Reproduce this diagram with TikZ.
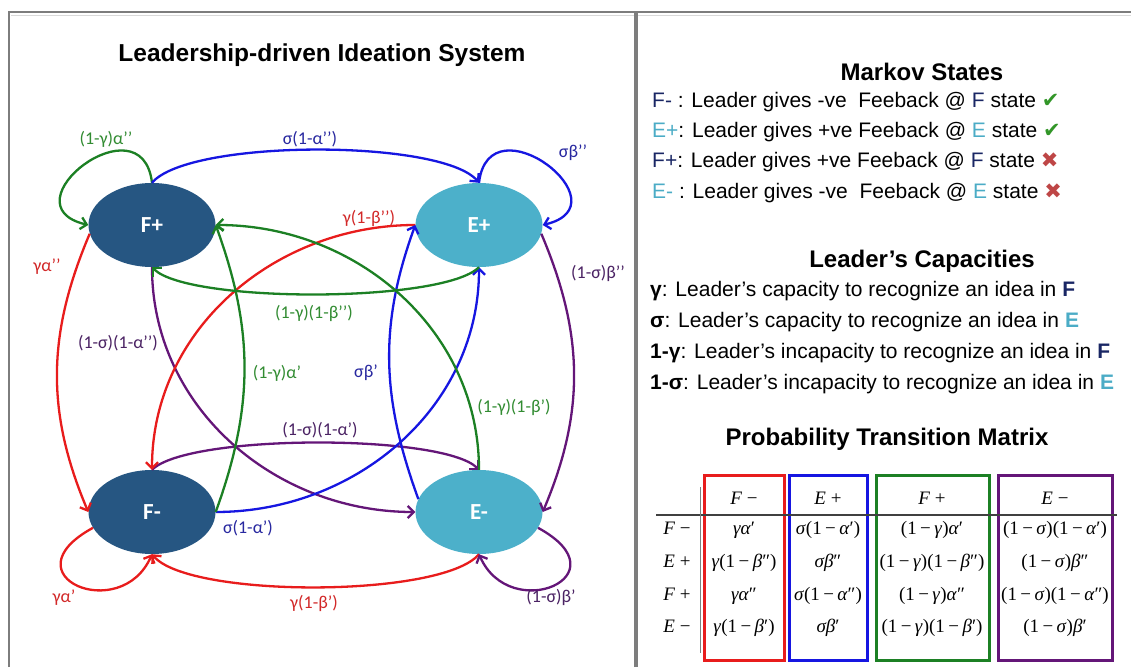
\documentclass[tikz,border=0pt]{standalone}
\usepackage{fontspec}
\setmainfont{Liberation Sans}
\newfontfamily\lbl{Carlito}
\newfontfamily\mtx{Liberation Serif}
\newfontfamily\sym{DejaVu Sans}
\usetikzlibrary{shapes.geometric,arrows.meta}
\definecolor{Fcol}{RGB}{38,86,130}
\definecolor{Ecol}{RGB}{76,176,202}
\definecolor{cred}{RGB}{232,28,28}
\definecolor{cgreen}{RGB}{28,128,36}
\definecolor{cblue}{RGB}{22,22,225}
\definecolor{cpurple}{RGB}{100,22,120}
\definecolor{lred}{RGB}{210,40,40}
\definecolor{lgreen}{RGB}{50,140,50}
\definecolor{lblue}{RGB}{40,40,160}
\definecolor{lpurple}{RGB}{75,35,100}
\definecolor{navy}{RGB}{25,38,100}
\definecolor{aqua}{RGB}{75,172,198}
\definecolor{chk}{RGB}{50,150,40}
\definecolor{crs}{RGB}{190,70,70}
\definecolor{framec}{RGB}{125,125,125}
\newcommand\mi[1]{\textit{#1}}
\newcommand\mmn{\hspace{0.18em}−\hspace{0.18em}}
\begin{document}
\begin{tikzpicture}[x=1pt,y=1pt,
  stnode/.style={ellipse, minimum width=127pt, minimum height=84pt, inner sep=0pt, text=white, font=\lbl\bfseries\fontsize{23}{23}\selectfont},
  Fst/.style={stnode, fill=Fcol},
  Est/.style={stnode, fill=Ecol},
  conn/.style={line width=2.3pt, -{Straight Barb[length=6pt,width=12pt]}},
  lab/.style={font=\lbl\fontsize{18}{18}\selectfont, inner sep=1pt},
  ttl/.style={font=\bfseries\fontsize{24}{24}\selectfont, inner sep=0pt},
  row/.style={anchor=west, inner sep=0pt, font=\fontsize{21}{21}\selectfont, text height=0.75em, text depth=0.25em},
  mx/.style={font=\mtx\fontsize{19}{19}\selectfont, inner sep=0pt, text height=0.75em, text depth=0.25em},
  box/.style={line width=3pt}
]
\useasboundingbox (0,0) rectangle (1131,667);
\fill[white] (0,0) rectangle (1131,667);
% frame
\draw[gray!30, line width=1pt] (11,651.5) -- (1131,651.5);
\draw[framec, line width=2.5pt] (9,655) -- (1131,655);
\draw[framec, line width=2.5pt] (9,0) -- (9,656);
\draw[framec, line width=4pt] (636,0) -- (636,656);

% title
\node[ttl, font=\bfseries\fontsize{24.5}{24.5}\selectfont] (title) at (322,612) {Leadership-driven Ideation System};

% states
\node[Fst] (Fp) at (152,442) {F+};
\node[Est] (Ep) at (479,442) {E+};
\node[Fst] (Fm) at (152,155) {F-};
\node[Est] (Em) at (479,155) {E-};

% edges
\draw[conn, cgreen] (Fp.north) .. controls +(-10,85) and +(-85,20) .. (Fp.west);
\draw[conn, cblue] (Fp.north) to[out=50,in=130,looseness=0.45] (Ep.north);
\draw[conn, cblue] (Ep.north) .. controls +(10,85) and +(85,20) .. (Ep.east);
\draw[conn, cred] (Fp.188) to[out=-113,in=113] (Fm.west);
\draw[conn, cred] (Fm.195) .. controls +(-88,-48) and +(-31,-71) .. (Fm.south);
\draw[conn, cred] (Em.south) to[out=-130,in=-50,looseness=0.45] (Fm.south);
\draw[conn, cpurple] (Em.345) .. controls +(88,-48) and +(31,-71) .. (Em.south);
\draw[conn, cpurple] (Ep.352) to[out=-67,in=67] (Em.east);
\draw[conn, cpurple] (Fp.south) to[out=-90,in=180] (Em.west);
\draw[conn, cpurple] (Fm.north) to[out=45,in=135,looseness=0.4] (Em.north);
\draw[conn, cred] (Ep.west) to[out=180,in=90] (Fm.north);
\draw[conn, cblue] (Em.168) to[out=110,in=-110] (Ep.west);
\draw[conn, cblue] (Fm.east) to[out=0,in=-90] (Ep.south);
\draw[conn, cgreen] (Fm.east) to[out=70,in=-70] (Fp.east);
\draw[conn, cgreen] (Ep.south) to[out=-135,in=-45,looseness=0.4] (Fp.south);
\draw[conn, cgreen] (Em.north) to[out=90,in=0] (Fp.east);

% edge labels
\node[lab, text=lgreen] (l1) at (106,528) {(1-γ)α’’};
\node[lab, text=lblue] (l2) at (310,528) {σ(1-α’’)};
\node[lab, text=lblue] (l3) at (573,514) {σβ’’};
\node[lab, text=lred] (l4) at (369,449) {γ(1-β’’)};
\node[lab, text=lred] (l5) at (47,400) {γα’’};
\node[lab, text=lpurple] (l6) at (598,394) {(1-σ)β’’};
\node[lab, text=lgreen] (l7) at (314,354) {(1-γ)(1-β’’)};
\node[lab, text=lpurple] (l8) at (118,324) {(1-σ)(1-α’’)};
\node[lab, text=lgreen] (l9) at (277,294) {(1-γ)α’};
\node[lab, text=lblue] (l10) at (366,294) {σβ’};
\node[lab, text=lgreen] (l11) at (514,260) {(1-γ)(1-β’)};
\node[lab, text=lpurple] (l12) at (320,237) {(1-σ)(1-α’)};
\node[lab, text=lblue] (l13) at (248,139) {σ(1-α’)};
\node[lab, text=lred] (l14) at (64,69) {γα’};
\node[lab, text=lred] (l15) at (314,64) {γ(1-β’)};
\node[lab, text=lpurple] (l16) at (551,70) {(1-σ)β’};

% Markov states
\node[ttl] (ms) at (922,595) {Markov States};
\node[row] (r1) at (652,562) {\textcolor{navy}{F-} : Leader gives -ve\ \ Feeback @ \textcolor{navy}{F} state {\sym\textcolor{chk}{✔}}};
\node[row] (r2) at (652,532) {\textcolor{aqua}{E+}: Leader gives +ve Feeback @ \textcolor{aqua}{E} state {\sym\textcolor{chk}{✔}}};
\node[row] (r3) at (652,502) {\textcolor{navy}{F+}: Leader gives +ve Feeback @ \textcolor{navy}{F} state {\sym\textcolor{crs}{✖}}};
\node[row] (r4) at (652,471) {\textcolor{aqua}{E-} : Leader gives -ve\ \ Feeback @ \textcolor{aqua}{E} state {\sym\textcolor{crs}{✖}}};

% Leader's capacities
\node[ttl] (lc) at (922,406) {Leader’s Capacities};
\node[row] (c1) at (650,373) {\textbf{γ}: Leader’s capacity to recognize an idea in \textcolor{navy}{\textbf{F}}};
\node[row] (c2) at (650,342) {\textbf{σ}: Leader’s capacity to recognize an idea in \textcolor{aqua}{\textbf{E}}};
\node[row] (c3) at (650,311) {\textbf{1-γ}: Leader’s incapacity to recognize an idea in \textcolor{navy}{\textbf{F}}};
\node[row] (c4) at (650,280) {\textbf{1-σ}: Leader’s incapacity to recognize an idea in \textcolor{aqua}{\textbf{E}}};

% matrix
\node[ttl] (pt) at (887,228) {Probability Transition Matrix};
\draw[cred, box] (704,192) rectangle (784,7);
\draw[cblue, box] (789,192) rectangle (867,7);
\draw[cgreen, box] (876,192) rectangle (989,7);
\draw[cpurple, box] (998,192) rectangle (1112,7);
\draw[black!75, line width=1.3pt] (656,152) -- (1117,152);
\draw[gray, line width=1pt] (700,180) -- (700,14);

\node[mx] (h1) at (744,165) {\mi{F}\hspace{0.25em}−};
\node[mx] (h2) at (828,165) {\mi{E}\hspace{0.25em}+};
\node[mx] (h3) at (932,165) {\mi{F}\hspace{0.25em}+};
\node[mx] (h4) at (1055,165) {\mi{E}\hspace{0.25em}−};

\node[mx] (v1) at (677,135) {\mi{F}\hspace{0.25em}−};
\node[mx] (v2) at (677,102) {\mi{E}\hspace{0.25em}+};
\node[mx] (v3) at (677,69) {\mi{F}\hspace{0.25em}+};
\node[mx] (v4) at (677,37) {\mi{E}\hspace{0.25em}−};

\node[mx] (a11) at (744,135) {\mi{γα}′};
\node[mx] (a12) at (828,135) {\mi{σ}(1\mmn\mi{α}′)};
\node[mx] (a13) at (932,135) {(1\mmn\mi{γ})\mi{α}′};
\node[mx] (a14) at (1055,135) {(1\mmn\mi{σ})(1\mmn\mi{α}′)};

\node[mx] (a21) at (744,102) {\mi{γ}(1\mmn\mi{β}″)};
\node[mx] (a22) at (828,102) {\mi{σβ}″};
\node[mx] (a23) at (932,102) {(1\mmn\mi{γ})(1\mmn\mi{β}″)};
\node[mx] (a24) at (1055,102) {(1\mmn\mi{σ})\mi{β}″};

\node[mx] (a31) at (744,69) {\mi{γα}″};
\node[mx] (a32) at (828,69) {\mi{σ}(1\mmn\mi{α}″)};
\node[mx] (a33) at (932,69) {(1\mmn\mi{γ})\mi{α}″};
\node[mx] (a34) at (1055,69) {(1\mmn\mi{σ})(1\mmn\mi{α}″)};

\node[mx] (a41) at (744,37) {\mi{γ}(1\mmn\mi{β}′)};
\node[mx] (a42) at (828,37) {\mi{σβ}′};
\node[mx] (a43) at (932,37) {(1\mmn\mi{γ})(1\mmn\mi{β}′)};
\node[mx] (a44) at (1055,37) {(1\mmn\mi{σ})\mi{β}′};
\end{tikzpicture}
\end{document}
